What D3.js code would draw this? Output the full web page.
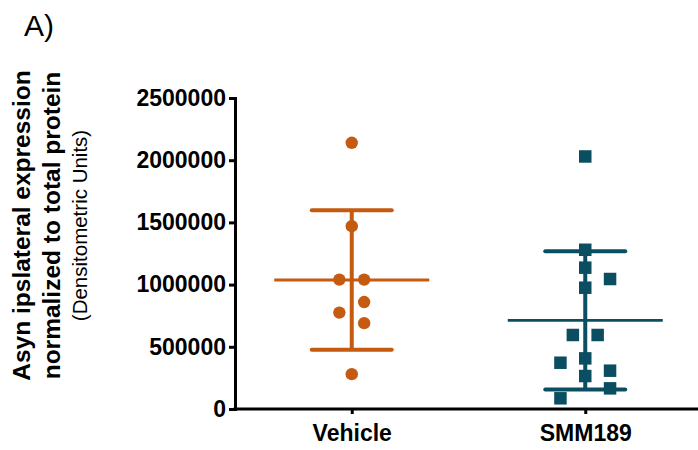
<!DOCTYPE html>
<html>
<head>
<meta charset="utf-8">
<script src="https://cdn.jsdelivr.net/npm/d3@7"></script>
<style>
  html, body { margin: 0; padding: 0; background: #fff; }
  svg { display: block; }
  text { font-family: "Liberation Sans", Arial, sans-serif; }
</style>
</head>
<body>
<svg id="chart" width="698" height="450"></svg>
<script>
// ---- data ----
const categories = ["Vehicle", "SMM189"];
const vehicleValues = [2140000, 1470000, 1040000, 1040000, 860000, 775000, 690000, 280000];
const vehicleSlots  = [0, 0, -1, 1, 1, -1, 1, 0];
const smmValues = [2030000, 1280000, 1136000, 1045000, 975000, 595000, 595000, 372000, 407000, 308000, 265000, 166000, 86000];
const smmSlots  = [0, 0, 0, 2, 0, -1, 1, -2, 0, 2, 0, 2, -2];
const yTicks = [0, 500000, 1000000, 1500000, 2000000, 2500000];
const colors = ["#C55A11", "#0C4E61"];

const groups = [
  { name: categories[0], values: vehicleValues, slots: vehicleSlots, shape: "circle", color: colors[0] },
  { name: categories[1], values: smmValues, slots: smmSlots, shape: "square", color: colors[1] }
];

// ---- layout ----
const svg = d3.select("#chart");
const x0 = 235, x1 = 702, yTop = 98, yBot = 409;

const x = d3.scalePoint().domain(categories).range([x0, x1]).padding(0.5);
const y = d3.scaleLinear().domain([0, 2500000]).range([yBot, yTop]);

// y axis
const yAxis = svg.append("g").attr("transform", `translate(${x0},0)`)
  .call(d3.axisLeft(y).tickValues(yTicks).tickFormat(d3.format("d")).tickSizeOuter(0).tickSize(6).tickPadding(3));
yAxis.select(".domain").attr("stroke", "#000").attr("stroke-width", 3);
yAxis.selectAll(".tick line").attr("stroke", "#000").attr("stroke-width", 3);
yAxis.selectAll(".tick text").attr("fill", "#000").style("font-size", "23px").style("font-weight", "bold");

// x axis
const xAxis = svg.append("g").attr("transform", `translate(0,${yBot})`)
  .call(d3.axisBottom(x).tickSizeOuter(0).tickSize(5).tickPadding(11));
xAxis.select(".domain").attr("stroke", "#000").attr("stroke-width", 3)
  .attr("d", `M${x0 - 1.5},0H${x1}`);
xAxis.selectAll(".tick line").attr("stroke", "#000").attr("stroke-width", 3);
xAxis.selectAll(".tick text").attr("fill", "#000").style("font-size", "23px").style("font-weight", "bold");

// groups
const slotW = 12.4, capHalf = 40, meanHalf = 77.5;
groups.forEach(g => {
  const cx = x(g.name);
  const m = d3.mean(g.values), sd = d3.deviation(g.values);
  const gg = svg.append("g");
  // points
  if (g.shape === "circle") {
    gg.selectAll("circle").data(g.values).enter().append("circle")
      .attr("cx", (d, i) => cx + g.slots[i] * slotW)
      .attr("cy", d => y(d))
      .attr("r", 6.2)
      .attr("fill", g.color);
  } else {
    const s = 12.5;
    gg.selectAll("rect").data(g.values).enter().append("rect")
      .attr("x", (d, i) => cx + g.slots[i] * slotW - s / 2)
      .attr("y", d => y(d) - s / 2)
      .attr("width", s).attr("height", s)
      .attr("fill", g.color);
  }
  // error bar
  gg.append("line").attr("x1", cx).attr("x2", cx).attr("y1", y(m + sd)).attr("y2", y(m - sd))
    .attr("stroke", g.color).attr("stroke-width", 4);
  [m + sd, m - sd].forEach(v => {
    gg.append("line").attr("x1", cx - capHalf).attr("x2", cx + capHalf).attr("y1", y(v)).attr("y2", y(v))
      .attr("stroke", g.color).attr("stroke-width", 4).attr("stroke-linecap", "round");
  });
  gg.append("line").attr("x1", cx - meanHalf).attr("x2", cx + meanHalf).attr("y1", y(m)).attr("y2", y(m))
    .attr("stroke", g.color).attr("stroke-width", 2.8);
});

// y-axis title
const tcy = 225.5;
svg.append("text").attr("transform", `translate(30,${tcy}) rotate(-90)`).attr("text-anchor", "middle")
  .style("font-size", "24.5px").style("font-weight", "bold").attr("fill", "#000")
  .text("Asyn ipslateral expression");
svg.append("text").attr("transform", `translate(59.5,${tcy}) rotate(-90)`).attr("text-anchor", "middle")
  .style("font-size", "24.5px").style("font-weight", "bold").attr("fill", "#000")
  .text("normalized to total protein");
svg.append("text").attr("transform", `translate(87,${tcy}) rotate(-90)`).attr("text-anchor", "middle")
  .style("font-size", "20.5px").attr("fill", "#000")
  .text("(Densitometric Units)");

// panel label
svg.append("text").attr("x", 24).attr("y", 36).style("font-size", "30px").attr("fill", "#000").text("A)");
</script>
</body>
</html>
